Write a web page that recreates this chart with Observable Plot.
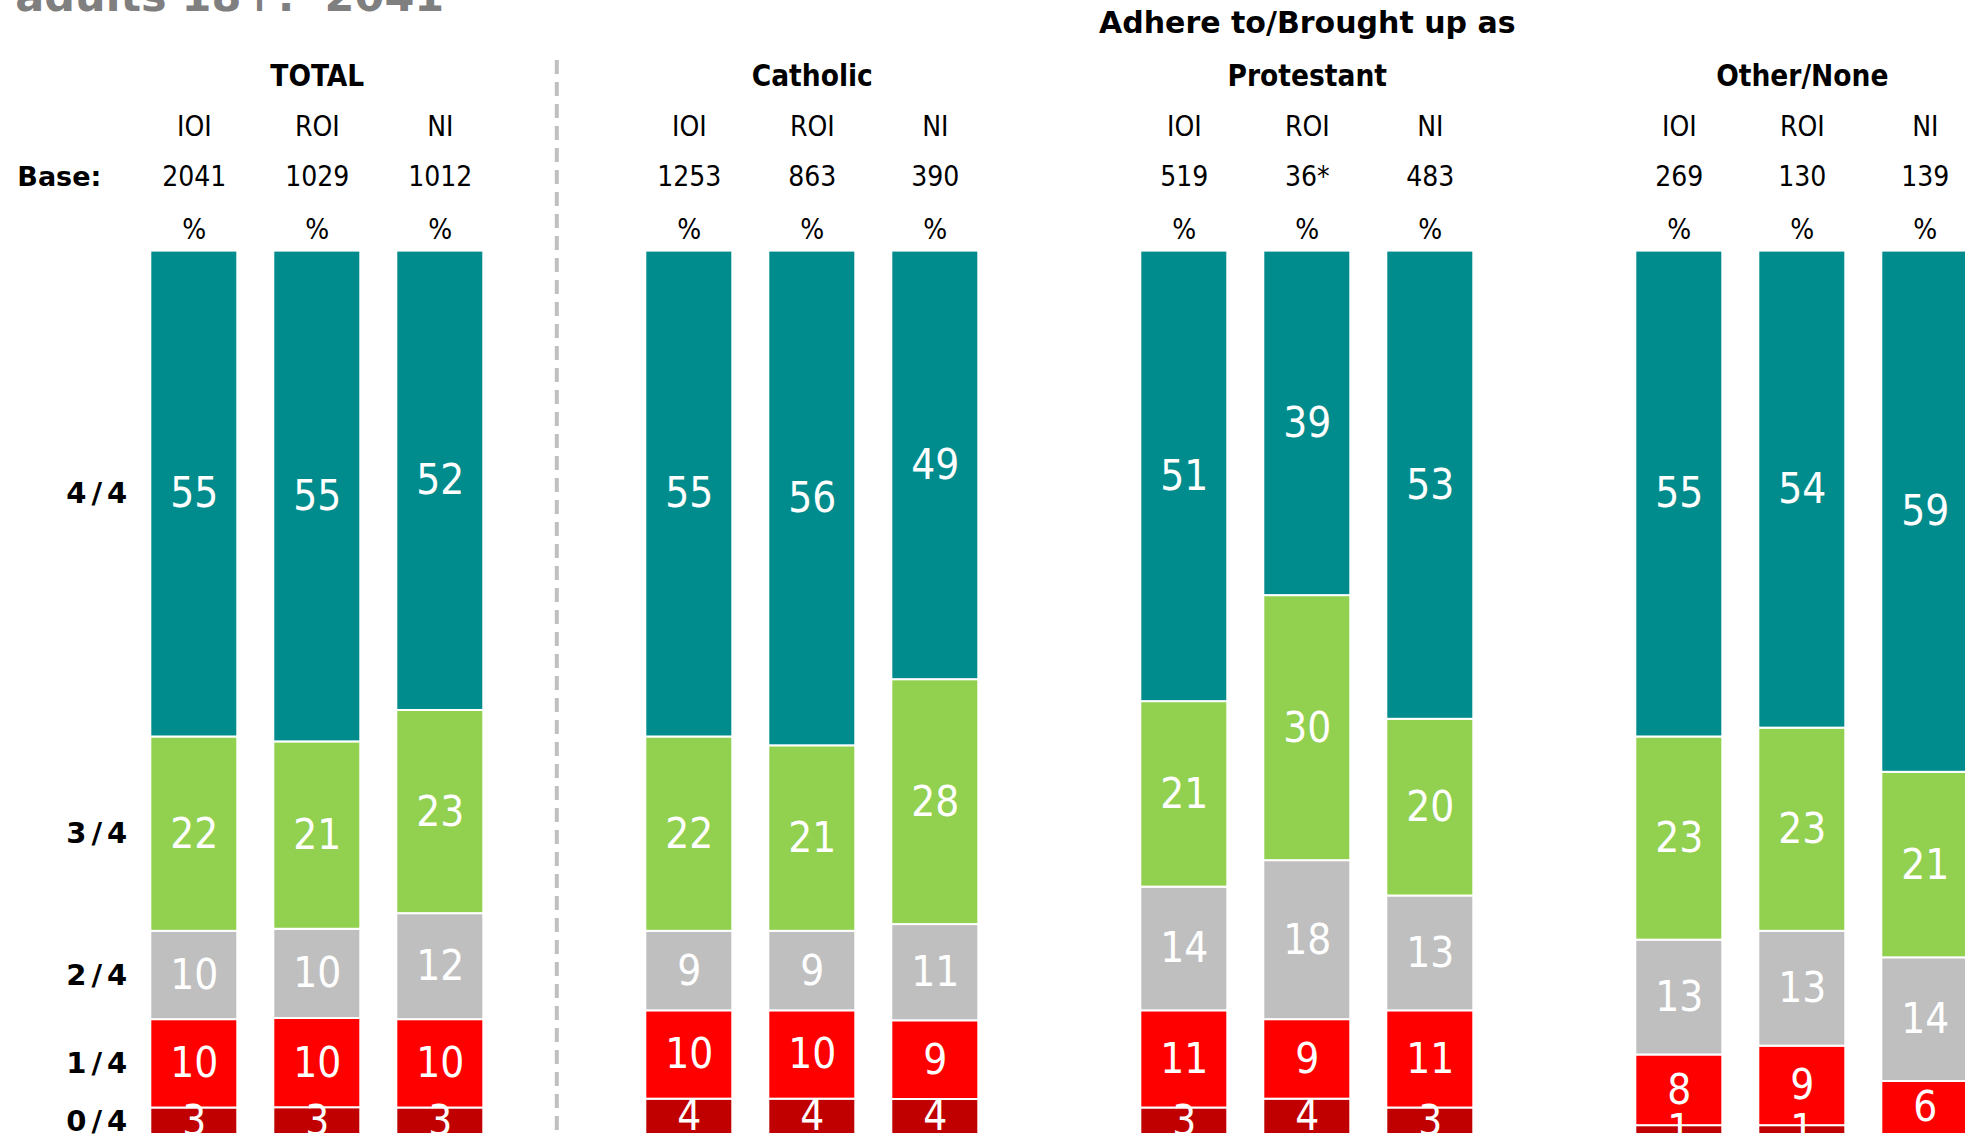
<!DOCTYPE html>
<html><head><meta charset="utf-8">
<script src="https://cdn.jsdelivr.net/npm/d3@7"></script>
<script src="https://cdn.jsdelivr.net/npm/@observablehq/plot@0.6"></script>
<style>
html,body{margin:0;padding:0;background:#fff;overflow:hidden;}
#chart svg{overflow:hidden;display:block;}
</style></head><body><div id="chart"></div>
<script>
// ---- data ----
const groups = ["TOTAL", "Catholic", "Protestant", "Other/None"];
const regions = ["IOI", "ROI", "NI"];
const levels = ["0/4", "1/4", "2/4", "3/4", "4/4"];           // bottom -> top
const levelColors = ["#C00000", "#FF0000", "#BFBFBF", "#92D050", "#008C8C"];
const superTitle = "Adhere to/Brought up as";
const titleText = "adults 18+:  2041";
const baseLabel = "Base:";

const totalBases = ["2041", "1029", "1012"];
const catholicBases = ["1253", "863", "390"];
const protestantBases = ["519", "36*", "483"];
const otherBases = ["269", "130", "139"];

// per region (IOI, ROI, NI): values for levels 0/4 .. 4/4
const totalValues = [[3, 10, 10, 22, 55], [3, 10, 10, 21, 55], [3, 10, 12, 23, 52]];
const catholicValues = [[4, 10, 9, 22, 55], [4, 10, 9, 21, 56], [4, 9, 11, 28, 49]];
const protestantValues = [[3, 11, 14, 21, 51], [4, 9, 18, 30, 39], [3, 11, 13, 20, 53]];
const otherValues = [[1, 8, 13, 23, 55], [1, 9, 13, 23, 54], [0, 6, 14, 21, 59]];

// ---- tables built from the arrays ----
const allBases = [totalBases, catholicBases, protestantBases, otherBases];
const allValues = [totalValues, catholicValues, protestantValues, otherValues];
const rows = groups.flatMap((g, gi) => regions.flatMap((r, ri) =>
  levels.map((lv, li) => ({group: g, region: r, level: lv, value: allValues[gi][ri][li]}))));
const bars = groups.flatMap((g, gi) => regions.map((r, ri) => ({group: g, region: r, base: allBases[gi][ri]})));
const axisRows = rows.filter(d => d.group === "TOTAL" && d.region === "IOI");

const font = "'DejaVu Sans Condensed', 'DejaVu Sans', sans-serif";
const wide = "'DejaVu Sans', sans-serif";
const hdr = {fx: "group", x: "region", frameAnchor: "top", lineAnchor: "middle", fontSize: 28, fill: "black", fontFamily: font};

const chart = Plot.plot({
  width: 1965, height: 1137,
  marginTop: 250.6, marginBottom: 3, marginLeft: 129.7, marginRight: -23.2,
  fx: {domain: groups, paddingInner: 0.25, paddingOuter: 0, axis: null},
  x: {domain: regions, paddingInner: 0.295, paddingOuter: 0.1475, axis: null},
  y: {axis: null},
  color: {domain: levels, range: levelColors},
  style: {fontFamily: font, background: "white", color: "black"},
  marks: [
    Plot.barY(rows, Plot.stackY({fx: "group", x: "region", y: "value", fill: "level",
      offset: "normalize", stroke: "white", strokeWidth: 2})),
    Plot.text(rows, Plot.stackY({fx: "group", x: "region", y: "value", offset: "normalize",
      filter: d => d.value > 0, text: d => String(d.value), fill: "white", fontSize: 42, fontFamily: font})),
    Plot.text(axisRows, Plot.stackY({fx: "group", x: "region", y: "value", offset: "normalize",
      text: "level", textAnchor: "end", dx: -62, fontWeight: "bold", fontSize: 29,
      fill: "black", fontFamily: wide})),
    Plot.text(bars, {...hdr, text: "region", dy: -124}),
    Plot.text(bars, {...hdr, text: "base", dy: -74}),
    Plot.text(bars, {...hdr, text: () => "%", dy: -21}),
    Plot.text(groups, {...hdr, fx: d => d, x: () => "ROI", text: d => d, dy: -175, fontWeight: "bold", fontSize: 29.5}),
    Plot.text([superTitle], {...hdr, fx: () => "Protestant", x: () => "ROI", text: d => d, dy: -228,
      fontWeight: "bold", fontSize: 30, fontFamily: wide}),
    Plot.text([baseLabel], {...hdr, fx: () => "TOTAL", x: () => "IOI", text: d => d, dy: -74,
      dx: -177, textAnchor: "start", fontWeight: "bold", fontSize: 27, fontFamily: wide}),
    Plot.text([titleText], {fx: () => "TOTAL", x: () => "IOI", text: d => d, frameAnchor: "top",
      lineAnchor: "bottom", dy: -240, dx: -179, textAnchor: "start", fontWeight: "bold",
      fontSize: 43, fill: "#7F7F7F", fontFamily: wide}),
    Plot.ruleX(["TOTAL"], {fx: d => d, x: () => "NI", dx: 116.5, insetTop: -190.6, insetBottom: -3,
      stroke: "#C0C0C0", strokeWidth: 4, strokeDasharray: "14,8"})
  ]
});
// wider letter spacing for the level labels (Verdana-like look)
d3.select(chart).selectAll("text")
  .filter(function () { return levels.includes(this.textContent); })
  .style("letter-spacing", "5px");
document.getElementById("chart").appendChild(chart);
</script></body></html>
